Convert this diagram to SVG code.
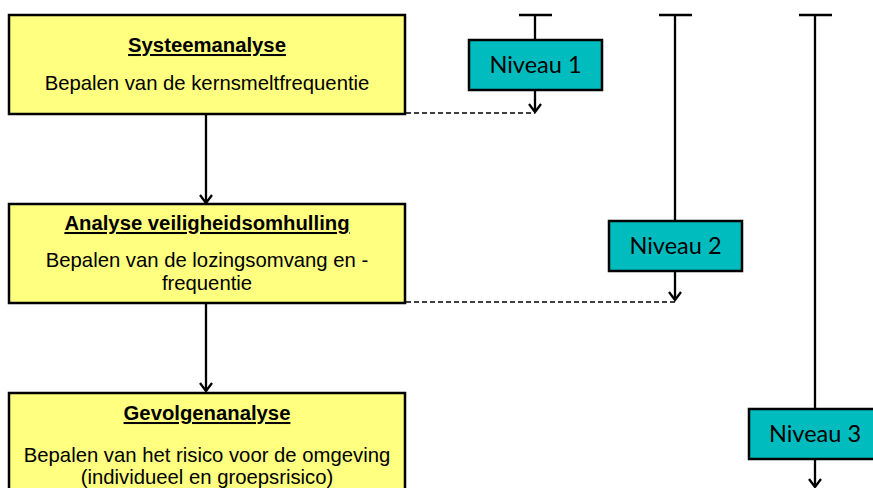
<svg xmlns="http://www.w3.org/2000/svg" width="873" height="488" viewBox="0 0 873 488">
<defs>
<style>
.box{fill:#FFFF80;stroke:#000;stroke-width:2.5}
.lvl{fill:#00BCBF;stroke:#000;stroke-width:2.5}
.t{font-family:"Liberation Sans",Arial,sans-serif;font-size:20.3px;fill:#000;text-anchor:middle}
.h{font-weight:bold;text-decoration:underline}
.n{font-family:Lato,"Open Sans",sans-serif;font-size:23.5px;fill:#000;text-anchor:middle}
.ln{stroke:#000;stroke-width:2.3;fill:none}
.ds{stroke:#000;stroke-width:1.7;fill:none;stroke-dasharray:5 3}
</style>
<marker id="ah" markerUnits="userSpaceOnUse" markerWidth="20" markerHeight="20" viewBox="-10 -10 20 20" refX="0" refY="0" orient="auto">
<path d="M-8,-6 L0,0 L-8,6" fill="none" stroke="#000" stroke-width="2.3"/>
</marker>
</defs>
<g id="connectors">
<line class="ln" x1="206" y1="115" x2="206" y2="203" marker-end="url(#ah)"/>
<line class="ln" x1="206" y1="304" x2="206" y2="391" marker-end="url(#ah)"/>
<line class="ln" x1="519" y1="15" x2="552" y2="15"/>
<line class="ln" x1="535" y1="15" x2="535" y2="40"/>
<line class="ln" x1="535" y1="90" x2="535" y2="112" marker-end="url(#ah)"/>
<line class="ds" x1="406" y1="113" x2="535" y2="113"/>
<line class="ln" x1="659" y1="15" x2="692" y2="15"/>
<line class="ln" x1="675" y1="15" x2="675" y2="221"/>
<line class="ln" x1="675" y1="271" x2="675" y2="300" marker-end="url(#ah)"/>
<line class="ds" x1="406" y1="302" x2="675" y2="302"/>
<line class="ln" x1="799" y1="15" x2="832" y2="15"/>
<line class="ln" x1="815" y1="15" x2="815" y2="409"/>
<line class="ln" x1="815" y1="459" x2="815" y2="487" marker-end="url(#ah)"/>
</g>
<g id="systeemanalyse">
<rect class="box" x="9" y="15" width="396" height="99"/>
<text class="t h" x="207" y="52">Systeemanalyse</text>
<text class="t" x="207" y="90">Bepalen van de kernsmeltfrequentie</text>
</g>
<g id="veiligheidsomhulling">
<rect class="box" x="9" y="204" width="396" height="99"/>
<text class="t h" x="207" y="230">Analyse veiligheidsomhulling</text>
<text class="t" x="207" y="267">Bepalen van de lozingsomvang en -</text>
<text class="t" x="207" y="290">frequentie</text>
</g>
<g id="gevolgenanalyse">
<rect class="box" x="9" y="393" width="396" height="110"/>
<text class="t h" x="207" y="420">Gevolgenanalyse</text>
<text class="t" x="207" y="462">Bepalen van het risico voor de omgeving</text>
<text class="t" x="207" y="484">(individueel en groepsrisico)</text>
</g>
<g id="niveau1">
<rect class="lvl" x="469" y="40" width="133" height="50"/>
<text class="n" x="535.5" y="73">Niveau 1</text>
</g>
<g id="niveau2">
<rect class="lvl" x="609" y="221" width="133" height="50"/>
<text class="n" x="675.5" y="254">Niveau 2</text>
</g>
<g id="niveau3">
<rect class="lvl" x="749" y="409" width="133" height="50"/>
<text class="n" x="815" y="442">Niveau 3</text>
</g>
</svg>
